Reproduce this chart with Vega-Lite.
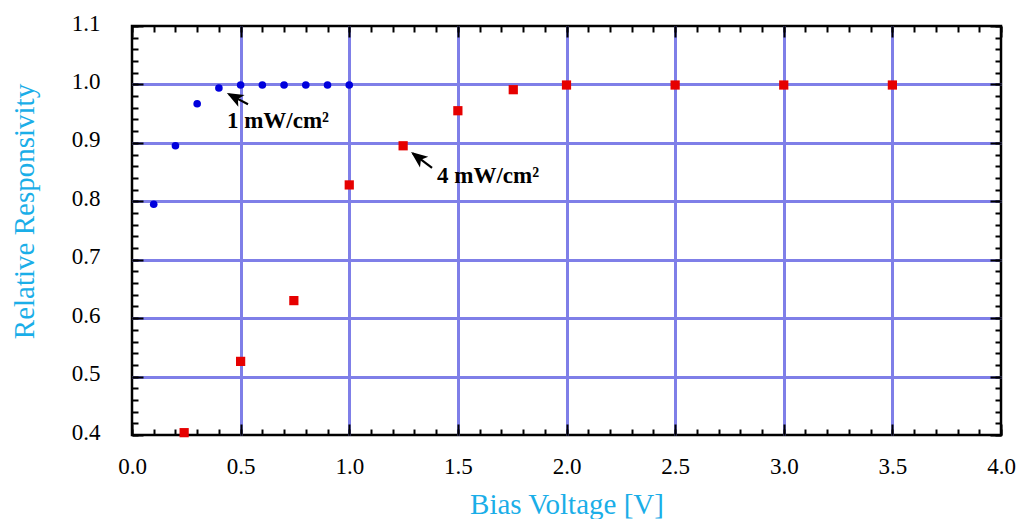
{
  "$schema": "https://vega.github.io/schema/vega-lite/v6.json",
  "width": 869,
  "height": 409,
  "autosize": {"type": "none"},
  "padding": {"left": 132, "top": 26, "right": 22, "bottom": 84},
  "background": "white",
  "config": {
    "view": {"stroke": "black", "strokeWidth": 2.5},
    "font": "Liberation Serif"
  },
  "datasets": {
    "low": [
      {"x": 0.1, "y": 0.795}, {"x": 0.2, "y": 0.895}, {"x": 0.3, "y": 0.967},
      {"x": 0.4, "y": 0.994}, {"x": 0.5, "y": 0.999}, {"x": 0.6, "y": 0.999},
      {"x": 0.7, "y": 0.999}, {"x": 0.8, "y": 0.999}, {"x": 0.9, "y": 0.999},
      {"x": 1.0, "y": 0.999}
    ],
    "high": [
      {"x": 0.24, "y": 0.404}, {"x": 0.5, "y": 0.526}, {"x": 0.745, "y": 0.63},
      {"x": 1.0, "y": 0.828}, {"x": 1.248, "y": 0.895}, {"x": 1.5, "y": 0.955},
      {"x": 1.755, "y": 0.991}, {"x": 2.0, "y": 0.999}, {"x": 2.5, "y": 0.999},
      {"x": 3.0, "y": 0.999}, {"x": 3.5, "y": 0.999}
    ],
    "labels": [
      {"x": 0.437, "y": 0.925, "text": "1 mW/cm²"},
      {"x": 1.404, "y": 0.831, "text": "4 mW/cm²"}
    ],
    "arrows": [
      {"x": 0.534, "y": 0.966, "x2": 0.447, "y2": 0.983},
      {"x": 1.381, "y": 0.857, "x2": 1.293, "y2": 0.882}
    ],
    "heads": [
      {"x": 0.473, "y": 0.978, "angle": 298},
      {"x": 1.317, "y": 0.875, "angle": 308}
    ]
  },
  "layer": [
    {
      "data": {"name": "low"},
      "mark": {"type": "point", "filled": true, "shape": "circle", "size": 58, "color": "#0000dd", "opacity": 1},
      "encoding": {
        "x": {
          "field": "x", "type": "quantitative",
          "scale": {"domain": [0, 4], "nice": false, "zero": false},
          "axis": {
            "orient": "bottom",
            "values": [0, 0.5, 1, 1.5, 2, 2.5, 3, 3.5, 4],
            "format": ".1f",
            "domain": false,
            "ticks": true, "tickSize": -11, "tickWidth": 2, "tickColor": "black",
            "grid": true, "gridColor": "#7f7fe8", "gridWidth": 3,
            "gridOpacity": {"condition": {"test": "datum.value > 0.01 && datum.value < 3.99", "value": 1}, "value": 0},
            "labelFont": "Liberation Serif", "labelFontSize": 23, "labelColor": "black",
            "labelBaseline": "alphabetic", "labelPadding": 49, "labelFlush": false,
            "title": "Bias Voltage [V]",
            "titleFont": "Liberation Serif", "titleFontSize": 29, "titleFontWeight": "normal",
            "titleColor": "#1aaee8", "titleX": 434.5, "titleY": 78, "titleBaseline": "alphabetic", "titleAlign": "center", "titleAnchor": null
          }
        },
        "y": {
          "field": "y", "type": "quantitative",
          "scale": {"domain": [0.4, 1.1], "nice": false, "zero": false},
          "axis": {
            "orient": "left",
            "values": [0.4, 0.5, 0.6, 0.7, 0.8, 0.9, 1.0, 1.1],
            "format": ".1f",
            "domain": false,
            "ticks": true, "tickSize": -11, "tickWidth": 2, "tickColor": "black",
            "grid": true, "gridColor": "#7f7fe8", "gridWidth": 3,
            "gridOpacity": {"condition": {"test": "datum.value > 0.41 && datum.value < 1.09", "value": 1}, "value": 0},
            "labelFont": "Liberation Serif", "labelFontSize": 23, "labelColor": "black",
            "labelPadding": 43, "labelFlush": false, "labelBaseline": "middle", "labelOffset": -3,
            "title": "Relative Responsivity",
            "titleFont": "Liberation Serif", "titleFontSize": 29, "titleFontWeight": "normal",
            "titleColor": "#1aaee8", "titleAngle": -90, "titleX": -99, "titleY": 185,
            "titleBaseline": "alphabetic", "titleAlign": "center", "titleAnchor": null
          }
        }
      }
    },
    {
      "data": {"name": "high"},
      "mark": {"type": "point", "filled": true, "shape": "square", "size": 85, "color": "#e60000", "opacity": 1},
      "encoding": {
        "x": {
          "field": "x", "type": "quantitative",
          "axis": {
            "orient": "top", "values": [0, 0.5, 1, 1.5, 2, 2.5, 3, 3.5, 4],
            "domain": false, "grid": false, "labels": false, "title": null,
            "tickSize": -11, "tickWidth": 2, "tickColor": "black"
          }
        },
        "y": {
          "field": "y", "type": "quantitative",
          "axis": {
            "orient": "right", "values": [0.4, 0.5, 0.6, 0.7, 0.8, 0.9, 1.0, 1.1],
            "domain": false, "grid": false, "labels": false, "title": null,
            "tickSize": -11, "tickWidth": 2, "tickColor": "black"
          }
        }
      }
    },
    {
      "data": {"name": "labels"},
      "mark": {"type": "text", "font": "Liberation Serif", "fontSize": 23, "fontWeight": "bold", "align": "left", "baseline": "alphabetic", "color": "black"},
      "encoding": {
        "x": {
          "field": "x", "type": "quantitative",
          "axis": {
            "orient": "bottom",
            "values": [0,0.1,0.2,0.3,0.4,0.5,0.6,0.7,0.8,0.9,1.0,1.1,1.2,1.3,1.4,1.5,1.6,1.7,1.8,1.9,2.0,2.1,2.2,2.3,2.4,2.5,2.6,2.7,2.8,2.9,3.0,3.1,3.2,3.3,3.4,3.5,3.6,3.7,3.8,3.9,4.0],
            "domain": false, "grid": false, "labels": false, "title": null,
            "tickSize": -6, "tickWidth": 2, "tickColor": "black"
          }
        },
        "y": {
          "field": "y", "type": "quantitative",
          "axis": {
            "orient": "left",
            "values": [0.4,0.42,0.44,0.46,0.48,0.5,0.52,0.54,0.56,0.58,0.6,0.62,0.64,0.66,0.68,0.7,0.72,0.74,0.76,0.78,0.8,0.82,0.84,0.86,0.88,0.9,0.92,0.94,0.96,0.98,1.0,1.02,1.04,1.06,1.08,1.1],
            "domain": false, "grid": false, "labels": false, "title": null,
            "tickSize": -6, "tickWidth": 2, "tickColor": "black"
          }
        },
        "text": {"field": "text", "type": "nominal"}
      }
    },
    {
      "data": {"name": "arrows"},
      "mark": {"type": "rule", "color": "black", "strokeWidth": 2.2},
      "encoding": {
        "x": {
          "field": "x", "type": "quantitative",
          "axis": {
            "orient": "top",
            "values": [0,0.1,0.2,0.3,0.4,0.5,0.6,0.7,0.8,0.9,1.0,1.1,1.2,1.3,1.4,1.5,1.6,1.7,1.8,1.9,2.0,2.1,2.2,2.3,2.4,2.5,2.6,2.7,2.8,2.9,3.0,3.1,3.2,3.3,3.4,3.5,3.6,3.7,3.8,3.9,4.0],
            "domain": false, "grid": false, "labels": false, "title": null,
            "tickSize": -6, "tickWidth": 2, "tickColor": "black"
          }
        },
        "y": {
          "field": "y", "type": "quantitative",
          "axis": {
            "orient": "right",
            "values": [0.4,0.42,0.44,0.46,0.48,0.5,0.52,0.54,0.56,0.58,0.6,0.62,0.64,0.66,0.68,0.7,0.72,0.74,0.76,0.78,0.8,0.82,0.84,0.86,0.88,0.9,0.92,0.94,0.96,0.98,1.0,1.02,1.04,1.06,1.08,1.1],
            "domain": false, "grid": false, "labels": false, "title": null,
            "tickSize": -6, "tickWidth": 2, "tickColor": "black"
          }
        },
        "x2": {"field": "x2"},
        "y2": {"field": "y2"}
      }
    },
    {
      "data": {"name": "heads"},
      "mark": {"type": "point", "filled": true, "shape": "M0,-1L0.75,0.85L0,0.4L-0.75,0.85Z", "size": 320, "color": "black", "opacity": 1},
      "encoding": {
        "x": {"field": "x", "type": "quantitative", "axis": null},
        "y": {"field": "y", "type": "quantitative", "axis": null},
        "angle": {"field": "angle", "type": "quantitative", "scale": null}
      }
    }
  ],
  "resolve": {"axis": {"x": "independent", "y": "independent"}}
}
